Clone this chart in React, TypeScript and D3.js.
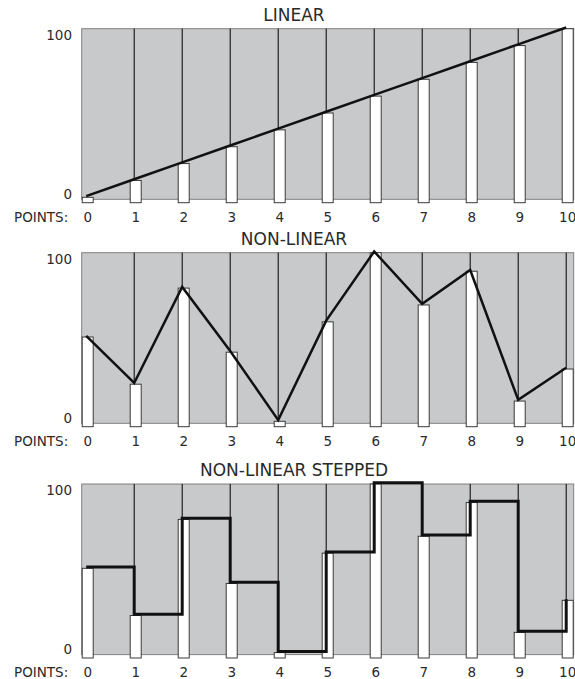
import React from 'react';
import * as d3 from 'd3';

const POINTS = [0, 1, 2, 3, 4, 5, 6, 7, 8, 9, 10];
const LINEAR_VALUES = [0, 10, 20, 30, 40, 50, 60, 70, 80, 90, 100];
const NON_LINEAR_VALUES = [50, 22, 79, 41, 0, 59, 100, 69, 89, 12, 31];
const STEPPED_VALUES = [50, 22, 79, 41, 0, 59, 100, 69, 89, 12, 31];
const PANEL_TITLES = ['LINEAR', 'NON-LINEAR', 'NON-LINEAR STEPPED'];
const Y_TICKS = [0, 100];
const X_LABEL = 'POINTS:';

const W = 575;
const H = 679;
const PLOT_LEFT = 81.7;
const BAR_W = 12;
const STEP = 48;
const PANEL_TOPS = [28.7, 252.7, 484];
const PANEL_H = 170.6;
const FONT = '"DejaVu Sans", sans-serif';
const TEXT = '#2a2a2a';

type PanelProps = {
  top: number;
  title: string;
  values: number[];
  curve: d3.CurveFactory;
  lineWidth: number;
};

function Panel({ top, title, values, curve, lineWidth }: PanelProps) {
  const bottom = top + PANEL_H;
  const x = d3.scaleLinear().domain([0, POINTS.length - 1]).range([PLOT_LEFT, PLOT_LEFT + STEP * (POINTS.length - 1)]);
  const y = d3.scaleLinear().domain([0, 100]).range([bottom - 2, top]);
  const barBottom = bottom + 3.4;
  const lineGen = d3
    .line<number>()
    .x((_, i) => x(POINTS[i]) + 4.5)
    .y((d) => y(d) - 1.2)
    .curve(curve);
  const plotRight = x(POINTS[POINTS.length - 1]) + BAR_W;

  return (
    <g>
      <text x={294} y={top - 8} textAnchor="middle" fontFamily={FONT} fontSize={17} fill={TEXT}>
        {title}
      </text>
      <rect x={PLOT_LEFT} y={top} width={plotRight - PLOT_LEFT} height={PANEL_H} fill="#c8c9cb" stroke="#808080" strokeWidth={1} />
      {Y_TICKS.map((t) => (
        <text
          key={t}
          x={72}
          y={t === 100 ? top + 11.3 : bottom - 0.5}
          textAnchor="end"
          fontFamily={FONT}
          fontSize={13.5}
          fill={TEXT}
        >
          {t}
        </text>
      ))}
      {POINTS.map((p, i) =>
        i > 0 && y(values[i]) > top + 1 ? (
          <line key={'v' + p} x1={x(p) + 4.5} x2={x(p) + 4.5} y1={top} y2={y(values[i])} stroke="#000" strokeWidth={1} />
        ) : null
      )}
      {POINTS.map((p, i) => {
        const yt = Math.min(y(values[i]), barBottom - 4.4);
        return (
          <rect
            key={'b' + p}
            x={x(p) + 0.5}
            y={yt}
            width={BAR_W - 1}
            height={barBottom - yt}
            fill="#ffffff"
            stroke="#3a3a3a"
            strokeWidth={1}
          />
        );
      })}
      <path d={lineGen(values) || ''} fill="none" stroke="#111" strokeWidth={lineWidth} strokeLinejoin="miter" />
      <text x={14} y={bottom + 22.3} fontFamily={FONT} fontSize={13.5} fill={TEXT}>
        {X_LABEL}
      </text>
      {POINTS.map((p) => (
        <text key={'l' + p} x={x(p) + BAR_W / 2} y={bottom + 22.3} textAnchor="middle" fontFamily={FONT} fontSize={13.5} fill={TEXT}>
          {p}
        </text>
      ))}
    </g>
  );
}

export default function App() {
  return (
    <svg width={W} height={H} style={{ position: 'absolute', left: 0, top: 0, background: '#fff' }}>
      <rect x={0} y={0} width={W} height={H} fill="#fff" />
      <Panel top={PANEL_TOPS[0]} title={PANEL_TITLES[0]} values={LINEAR_VALUES} curve={d3.curveLinear} lineWidth={2.5} />
      <Panel top={PANEL_TOPS[1]} title={PANEL_TITLES[1]} values={NON_LINEAR_VALUES} curve={d3.curveLinear} lineWidth={2.5} />
      <Panel top={PANEL_TOPS[2]} title={PANEL_TITLES[2]} values={STEPPED_VALUES} curve={d3.curveStepAfter} lineWidth={3} />
    </svg>
  );
}
